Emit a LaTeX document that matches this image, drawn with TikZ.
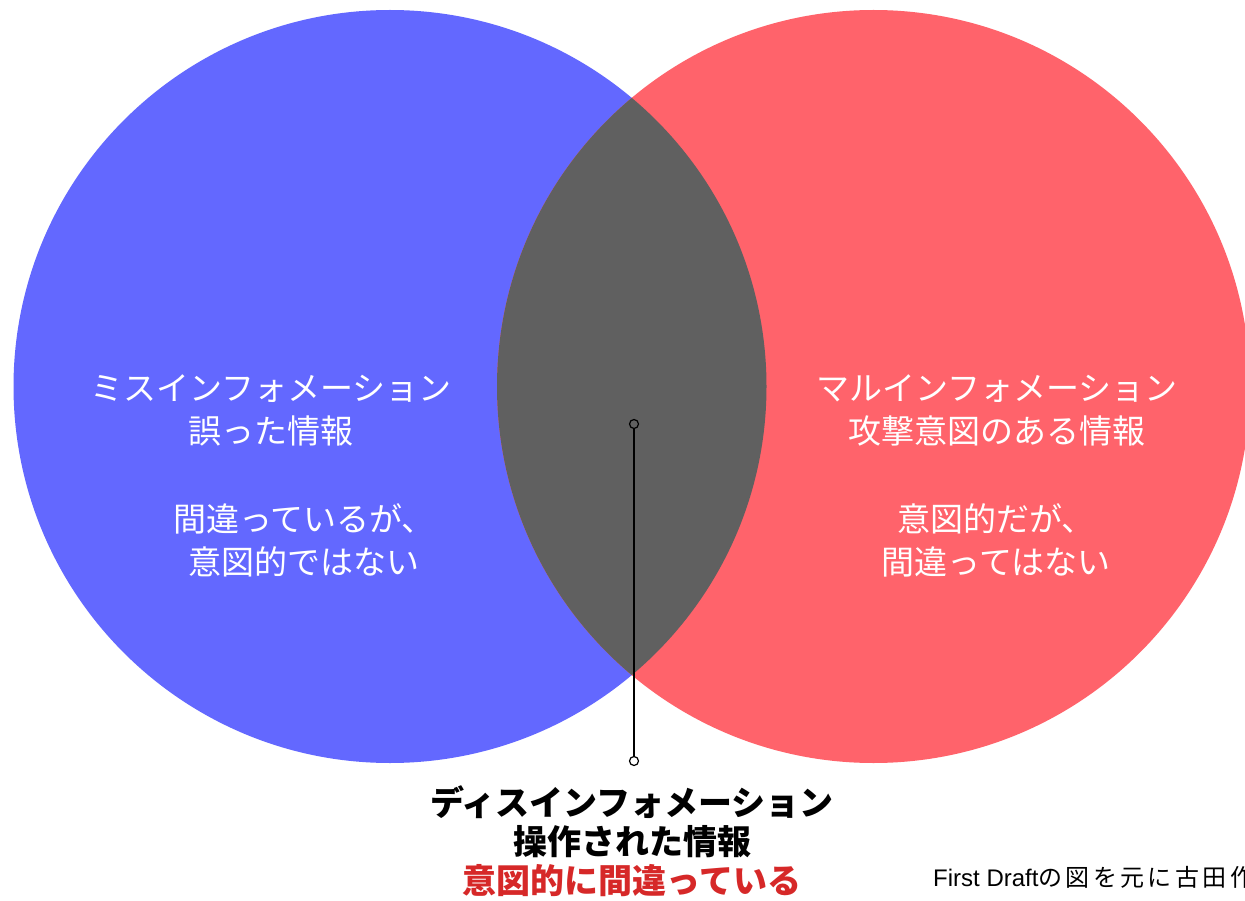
\documentclass[tikz,border=0pt]{standalone}
\usepackage{fontspec}
\setmainfont{Noto Sans CJK JP}
\newfontfamily\notefont{Liberation Sans}
\usetikzlibrary{positioning}
\definecolor{misblue}{RGB}{99,104,255}
\definecolor{malred}{RGB}{255,99,107}
\definecolor{disgray}{RGB}{96,96,96}
\definecolor{disred}{RGB}{214,40,40}
\tikzset{
  circtext/.style={text=white, align=center, inner sep=0pt, font=\fontsize{33}{43}\selectfont},
  distext/.style={text=black, align=center, inner sep=0pt, font=\fontsize{34}{39}\selectfont\bfseries},
  enddot/.style={circle, draw=black, line width=1.2pt, minimum size=9pt, inner sep=0pt},
  leader/.style={line width=1.5pt},
}

\begin{document}
\begin{tikzpicture}[x=1pt, y=-1pt]
    \useasboundingbox[fill=white] (0,0) rectangle (1245,901);
    % circles
    \fill[misblue] (390,386.5) circle (376.5);
    \fill[malred] (873.5,386.5) circle (376.5);
    \begin{scope}
      \clip (390,386.5) circle (376.5);
      \fill[disgray] (873.5,386.5) circle (376.5);
    \end{scope}
    % texts
    \node[circtext] (mistitle) at (271,410) {ミスインフォメーション\\誤った情報};
    \node[circtext] (misbody) at (304,540) {間違っているが、\\意図的ではない};
    \node[circtext] (maltitle) at (997,410) {マルインフォメーション\\攻撃意図のある情報};
    \node[circtext] (malbody) at (996,540) {意図的だが、\\間違ってはない};
    \node[enddot] (dtop) at (634,424) {};
    \node[enddot] (dbot) at (634,761) {};
    \draw[leader] (dtop) -- (dbot);
    \node[distext] (distitle) at (632,841) {ディスインフォメーション\\操作された情報\\\textcolor{disred}{意図的に間違っている}};
    \node[anchor=west, inner sep=0pt, font=\fontsize{24}{27}\selectfont] (note) at (933,877)
      {{\notefont First Draft}{\addfontfeature{LetterSpace=14}の図を元に古田作}};
  \end{tikzpicture}
\end{document}
